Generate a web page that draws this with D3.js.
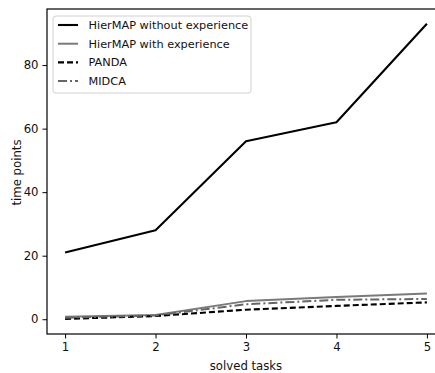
<!DOCTYPE html>
<html>
<head>
<meta charset="utf-8">
<script src="https://cdn.jsdelivr.net/npm/d3@7"></script>
<style>
  html, body { margin: 0; padding: 0; background: #fff; }
  svg { display: block; font-family: "DejaVu Sans", sans-serif; }
</style>
</head>
<body>
<div id="chart"></div>
<script>
// solved tasks vs time points, four planners
const tasks = [1, 2, 3, 4, 5];
const hiermapNoExp = [21, 28, 56, 62, 93];
const hiermapExp = [0.8, 1.3, 5.7, 7.0, 8.1];
const panda = [0.1, 1.0, 3.0, 4.2, 5.3];
const midca = [0.5, 1.2, 4.7, 6.1, 6.4];
const yTicks = [0, 20, 40, 60, 80];

const series = [
  { name: "HierMAP without experience", values: hiermapNoExp, color: "#000", width: 2.1, dash: null },
  { name: "HierMAP with experience", values: hiermapExp, color: "#7a7a7a", width: 2, dash: null },
  { name: "PANDA", values: panda, color: "#000", width: 2.1, dash: "6,3" },
  { name: "MIDCA", values: midca, color: "#666", width: 2, dash: "9,3,2,3" },
];

const W = 435, H = 373;
const margin = { top: 9, right: -10, bottom: 39, left: 47 };
const iw = W - margin.left - margin.right, ih = H - margin.top - margin.bottom;

const svg = d3.select("#chart").append("svg").attr("width", W).attr("height", H);
const g = svg.append("g").attr("transform", `translate(${margin.left},${margin.top})`);

// matplotlib style 5% padding
const x = d3.scaleLinear().domain([0.8, 5.2]).range([0, iw]);
const yMin = 0, yMax = 93, pad = (yMax - yMin) * 0.05;
const y = d3.scaleLinear().domain([yMin - pad, yMax + pad]).range([ih, 0]);

const line = d3.line().x((d, i) => x(tasks[i])).y((d) => y(d));
series.forEach((s) => {
  g.append("path").datum(s.values)
    .attr("fill", "none").attr("stroke", s.color).attr("stroke-width", s.width)
    .attr("stroke-dasharray", s.dash).attr("stroke-linejoin", "round")
    .attr("d", line);
});

// frame
g.append("rect").attr("width", iw).attr("height", ih)
  .attr("fill", "none").attr("stroke", "#000").attr("stroke-width", 1.2);

const xAxis = g.append("g").attr("transform", `translate(0,${ih})`)
  .call(d3.axisBottom(x).tickValues(tasks).tickSize(4.5).tickPadding(4).tickFormat(d3.format("d")));
const yAxis = g.append("g")
  .call(d3.axisLeft(y).tickValues(yTicks).tickSize(4.5).tickPadding(4).tickFormat(d3.format("d")));
[xAxis, yAxis].forEach((a) => {
  a.select(".domain").remove();
  a.selectAll("text").attr("font-size", 11.7).attr("fill", "#111").attr("font-family", "DejaVu Sans");
  a.selectAll("line").attr("stroke", "#000").attr("stroke-width", 1);
});

svg.append("text").attr("x", margin.left + x(3)).attr("y", 369.5)
  .attr("text-anchor", "middle").attr("font-size", 11.7).attr("fill", "#111")
  .text("solved tasks");
svg.append("text").attr("transform", `translate(20.5,${margin.top + ih / 2 + 1}) rotate(-90)`)
  .attr("text-anchor", "middle").attr("font-size", 11.7).attr("fill", "#111")
  .text("time points");

// legend
const lg = svg.append("g").attr("transform", "translate(53,16)");
lg.append("rect").attr("width", 198).attr("height", 77).attr("rx", 3)
  .attr("fill", "#fff").attr("fill-opacity", 0.8).attr("stroke", "#d0d0d0");
series.forEach((s, i) => {
  const yy = 9 + i * 18.7;
  lg.append("line").attr("x1", 5).attr("x2", 25).attr("y1", yy).attr("y2", yy)
    .attr("stroke", s.color).attr("stroke-width", s.width).attr("stroke-dasharray", s.dash);
  lg.append("text").attr("x", 35.5).attr("y", yy).attr("dy", "0.35em")
    .attr("font-size", 11.3).attr("fill", "#111").text(s.name);
});
</script>
</body>
</html>
